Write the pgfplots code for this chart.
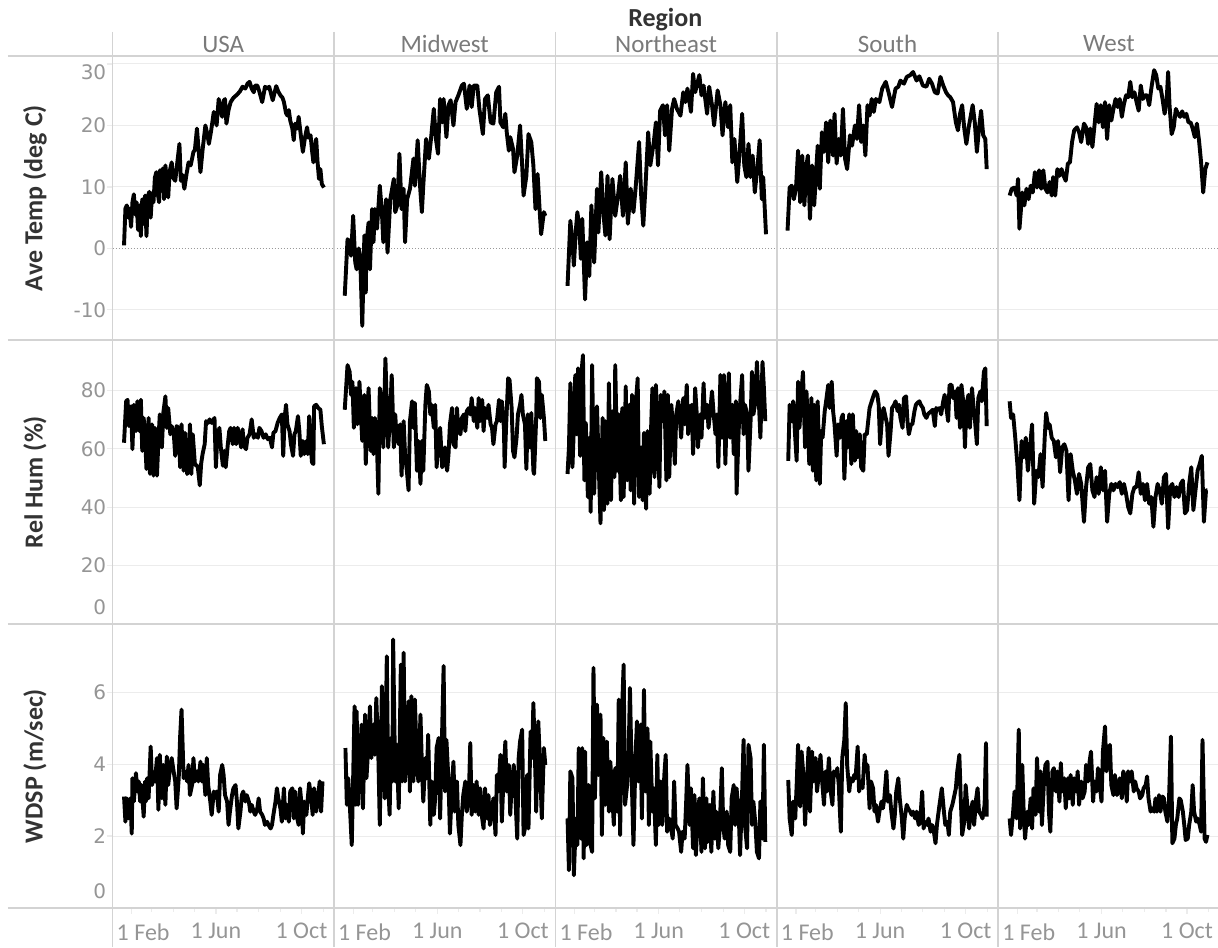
\documentclass[border=0pt]{standalone}
\usepackage{pgfplots}
\pgfplotsset{compat=1.18}
\usepgfplotslibrary{groupplots}
\usepackage{fontspec}
\setmainfont{Carlito}
\newfontfamily\numfont{DejaVu Sans}
\definecolor{sepc}{HTML}{D3D3D3}
\definecolor{gridc}{HTML}{ECECEC}
\definecolor{tickc}{HTML}{959595}
\definecolor{headc}{HTML}{7A7A7A}
\definecolor{labc}{HTML}{333333}
\newcommand{\yl}[2]{\raisebox{#1}[0pt][0pt]{#2}}
\begin{document}
\begin{tikzpicture}
\begin{groupplot}[
  group style={group size=5 by 3, horizontal sep=0pt, vertical sep=0pt, xticklabels at=edge bottom},
  scale only axis, width=110.7pt, height=142pt,
  xmin=4.7, xmax=320.4,
  xtick={32,152,274},
  xticklabels={\makebox[0pt][l]{\hspace{-7.5pt}1 Feb},1 Jun,1 Oct},
  minor xtick={60,91,121,182,213,244,305},
  axis line style={draw=none},
  xtick style={draw=none}, ytick style={draw=none},
  tick align=outside, major tick length=3pt, minor tick length=2pt,
  xtick pos=bottom, ytick pos=left,
  ymajorgrids, grid style={gridc, line width=0.5pt},
  xticklabel style={font=\fontsize{12}{14}\selectfont, text=tickc, inner sep=0pt, anchor=north, yshift=-4.5pt},
  yticklabel style={font=\numfont\fontsize{10}{12}\selectfont, text=tickc, inner sep=0pt, anchor=east},
  ylabel style={font=\bfseries\fontsize{13}{15}\selectfont, text=labc, at={(axis description cs:0,0.5)}, anchor=center, yshift=38.8pt},
  cycle list={black},
  every axis plot post/.append style={black, line width=1.95pt, line join=round, mark=none},
  r1/.style={ymin=-14.9, ymax=31.3, ytick={-10,10,20,30}, extra y ticks={0}, extra y tick style={grid=major, major grid style={densely dotted, black!40, line width=0.6pt}}},
  r2/.style={ymin=0, ymax=97.3, ytick={0,20,40,60,80}},
  r3/.style={ymin=0, ymax=7.9, ytick={0,2,4,6}},
  inner/.style={yticklabels={}, extra y tick labels={}},
  lefty/.style={ytick style={draw=gridc, line width=0.6pt}},
  bot/.style={xtick style={draw=gridc, line width=0.6pt}},
]
% ---------------- Row 1: Ave Temp ----------------
\nextgroupplot[r1, lefty, ylabel={Ave Temp (deg C)},
  yticklabels={\yl{-3.65pt}{-10},\yl{-3.65pt}{10},\yl{-3.65pt}{20},\yl{-7.65pt}{30}},
  extra y tick labels={\yl{-3.65pt}{0}}]
\coordinate (O) at (rel axis cs:0,1);
\addplot coordinates {(21,0.5)(23,6.5)(25,7.0)(27,5.0)(29,6.5)(31,3.5)(33,7.5)(35,8.8)(37,5.5)(39,7.5)(41,3.0)(43,7.0)(45,2.0)(47,8.0)(49,4.0)(51,8.6)(53,2.0)(55,8.5)(57,9.2)(59,5.0)(61,9.0)(63,7.5)(65,11.5)(67,12.4)(69,9.0)(71,7.5)(72,12.7)(74,10.0)(76,13.0)(78,8.0)(80,13.5)(82,11.0)(84,8.3)(86,12.5)(89,14.0)(91,11.5)(94,11.0)(96,13.0)(100,17.0)(102,11.0)(104,12.0)(107,9.7)(110,12.0)(113,14.0)(116,13.5)(120,15.7)(122,16.0)(125,19.5)(128,15.0)(130,12.4)(133,16.0)(137,20.0)(140,18.5)(142,17.0)(145,19.0)(149,22.2)(151,21.5)(153,20.0)(156,24.3)(158,23.0)(161,21.4)(163,24.0)(165,24.3)(167,20.3)(170,22.5)(173,23.8)(177,24.5)(182,25.0)(186,25.5)(190,26.3)(194,26.0)(197,26.8)(200,27.1)(203,26.0)(206,25.4)(208,26.5)(211,26.5)(214,25.5)(218,23.8)(220,25.0)(222,26.3)(225,26.0)(228,26.3)(231,25.0)(233,24.1)(236,25.5)(238,26.4)(241,25.5)(244,24.9)(247,24.5)(249,23.8)(252,22.0)(254,21.6)(256,22.5)(258,20.8)(261,19.5)(263,17.6)(265,20.3)(268,19.5)(270,21.4)(273,18.5)(276,15.7)(279,18.0)(282,19.7)(284,18.0)(287,18.4)(289,16.0)(291,14.0)(293,16.5)(295,17.8)(297,14.0)(299,11.3)(301,12.9)(303,10.5)(306,9.9)};
\nextgroupplot[r1, inner]
\addplot coordinates {(20,-7.7)(24,1.5)(27,1.0)(29,-1.2)(32,5.3)(35,-2.3)(37,-3.4)(40,0)(42,-1.2)(45,-12.6)(48,2.1)(50,-7.2)(51,1.0)(54,4.2)(56,-3.4)(59,6.4)(61,1.0)(63,6.4)(66,3.2)(70,10.2)(73,5.9)(75,1.0)(79,8.0)(81,-0.7)(85,8.0)(90,11.3)(92,5.9)(95,7.0)(98,15.4)(101,6.4)(104,9.7)(106,1.0)(109,8.0)(113,9.7)(118,14.6)(120,10.2)(124,17.6)(127,10.8)(130,5.9)(132,10.2)(136,17.8)(140,14.6)(143,17.8)(147,22.7)(150,17.8)(153,15.4)(156,24.3)(159,20.5)(161,24.3)(165,18.1)(168,23.3)(171,24.1)(175,20.0)(178,23.8)(182,24.9)(187,26.5)(190,26.8)(194,22.7)(198,26.5)(201,23.0)(204,26.5)(209,26.5)(212,22.7)(217,18.6)(220,24.3)(224,24.9)(228,20.5)(232,20.3)(236,25.4)(240,26.3)(242,20.5)(246,19.7)(249,21.9)(251,18.9)(254,15.9)(256,18.1)(260,16.2)(262,12.4)(266,15.1)(270,20.0)(273,13.5)(275,8.6)(279,11.8)(282,18.6)(286,17.3)(289,13.5)(292,6.4)(295,12.1)(298,6.1)(300,2.3)(304,5.9)(306,5.3)};
\nextgroupplot[r1, inner]
\addplot coordinates {(22,-6.1)(26,4.5)(29,1.0)(31,-2.8)(34,3.2)(36,5.9)(39,3.2)(41,-1.7)(43,4.8)(47,-8.3)(50,1.0)(53,-4.5)(56,7.0)(60,-2.3)(64,9.7)(66,2.6)(70,12.4)(73,5.9)(76,2.1)(79,11.8)(82,1.5)(86,11.3)(90,5.3)(94,8.6)(97,11.8)(101,5.3)(105,14.0)(108,4.0)(112,9.7)(116,5.9)(119,9.7)(124,17.3)(127,8.6)(130,3.7)(133,9.7)(137,18.9)(140,13.5)(145,17.3)(148,20.5)(151,13.5)(154,22.4)(158,23.3)(161,18.4)(164,23.3)(167,15.9)(171,22.7)(174,24.3)(178,22.7)(183,21.6)(187,25.4)(190,23.8)(193,26.0)(198,22.2)(201,28.4)(204,25.4)(210,28.2)(213,24.9)(216,26.5)(221,21.9)(224,26.3)(228,23.3)(231,20.0)(236,25.7)(240,23.3)(243,18.4)(247,23.8)(251,19.7)(254,23.3)(257,14.0)(260,17.8)(264,10.8)(267,15.1)(271,21.9)(274,13.5)(277,11.6)(280,17.0)(283,11.6)(286,15.1)(289,9.1)(293,13.5)(296,17.6)(299,8.0)(301,11.6)(305,2.3)};
\nextgroupplot[r1, inner]
\addplot coordinates {(20,2.9)(23,9.9)(26,10.2)(29,8.0)(32,9.7)(35,15.9)(38,7.5)(41,15.1)(44,7.0)(47,13.5)(49,15.1)(52,4.8)(55,13.5)(58,7.0)(61,12.9)(63,16.7)(66,9.7)(69,18.9)(72,15.7)(75,20.5)(78,14.0)(81,20.8)(85,15.1)(87,21.9)(90,13.8)(93,17.8)(96,15.1)(99,22.7)(102,14.6)(105,12.9)(109,18.4)(112,16.7)(116,20.0)(119,17.8)(122,23.3)(125,17.3)(128,20.0)(131,15.1)(134,23.3)(137,21.6)(140,24.3)(143,22.2)(146,24.3)(151,23.8)(155,26.0)(160,27.1)(164,25.4)(169,23.0)(174,26.0)(178,26.3)(181,27.3)(186,26.8)(190,27.9)(195,28.2)(199,28.7)(204,27.3)(208,28.0)(213,26.5)(218,26.3)(222,27.6)(226,26.8)(230,25.4)(234,25.2)(238,27.9)(242,26.5)(246,25.4)(249,24.9)(252,24.6)(256,23.8)(260,20.5)(263,19.2)(266,21.9)(269,23.3)(272,19.5)(275,17.0)(278,19.5)(281,21.4)(284,23.3)(287,20.5)(290,15.7)(293,19.5)(296,22.4)(299,18.4)(302,17.8)(304,12.9)};
\nextgroupplot[r1, inner]
\addplot coordinates {(21,8.6)(24,9.7)(28,9.9)(31,8.6)(33,11.3)(35,3.2)(39,9.1)(42,7.0)(45,9.7)(48,8.0)(51,10.2)(54,9.1)(57,12.4)(60,9.9)(63,12.7)(66,9.7)(69,12.7)(72,9.7)(75,9.1)(78,10.8)(81,8.6)(83,11.6)(86,8.6)(89,12.9)(92,11.8)(95,12.9)(98,11.8)(101,11.0)(104,13.8)(107,14.0)(110,17.3)(113,19.2)(117,19.7)(120,18.9)(123,17.3)(127,20.3)(130,19.7)(133,17.0)(136,19.5)(139,16.5)(142,20.0)(145,23.5)(148,20.5)(151,23.3)(154,19.7)(157,23.8)(160,17.8)(163,23.3)(166,20.8)(169,22.7)(172,24.3)(175,23.0)(178,24.3)(181,21.4)(184,23.5)(187,24.9)(190,24.6)(193,27.1)(196,24.6)(199,25.4)(202,23.8)(205,22.4)(208,26.5)(211,24.3)(214,24.9)(217,24.9)(220,23.3)(223,26.0)(227,29.0)(230,28.2)(233,26.0)(236,26.3)(239,24.3)(242,21.9)(245,24.3)(247,28.7)(249,23.3)(252,18.6)(255,19.7)(258,22.7)(261,21.9)(264,21.4)(267,22.3)(270,21.4)(273,21.9)(276,20.5)(279,20.5)(282,19.5)(285,18.1)(288,20.3)(291,17.6)(294,14.0)(297,9.1)(300,12.9)(303,14.0)};
% ---------------- Row 2: Rel Hum ----------------
\nextgroupplot[r2, lefty, ylabel={Rel Hum (\%)},
  yticklabels={\yl{4.85pt}{0},\yl{-3.65pt}{20},\yl{-3.65pt}{40},\yl{-3.65pt}{60},\yl{-3.65pt}{80}}]
\addplot coordinates {(21,62.1)(24,76.3)(26,76.8)(28,67.8)(31,74.6)(33,59.9)(35,75.1)(38,66.1)(40,76.3)(43,66.1)(45,76.8)(47,59.3)(49,70.6)(51,63.8)(53,53.1)(56,70.6)(58,51.4)(61,68.4)(63,50.8)(65,67.2)(68,50.8)(70,62.7)(72,71.8)(75,60.5)(77,72.3)(80,78.0)(82,67.2)(84,74.0)(87,65.0)(89,67.8)(92,65.0)(94,57.6)(96,67.8)(99,67.2)(101,53.7)(103,68.4)(106,52.5)(108,65.5)(111,51.4)(113,52.5)(115,68.4)(117,51.4)(119,65.0)(122,55.0)(124,54.2)(126,54.2)(129,47.5)(131,55.0)(133,58.2)(136,61.6)(138,69.5)(141,68.9)(143,70.1)(146,68.9)(150,70.6)(152,53.7)(154,63.8)(157,67.2)(159,60.5)(162,54.2)(164,59.3)(166,53.7)(169,61.6)(171,66.1)(173,67.2)(176,61.6)(178,67.2)(181,61.6)(183,67.2)(185,65.0)(188,60.5)(190,66.7)(192,61.0)(195,59.9)(197,63.8)(200,65.0)(203,70.1)(206,63.8)(209,65.0)(212,63.8)(214,67.2)(217,66.1)(220,63.8)(223,65.0)(226,63.3)(229,63.8)(232,60.5)(234,65.5)(237,66.1)(240,68.9)(243,70.6)(246,71.8)(248,57.6)(250,70.6)(252,75.1)(254,68.4)(257,66.1)(259,61.6)(262,57.6)(264,65.0)(266,66.1)(269,71.2)(271,66.1)(273,57.6)(276,62.7)(278,58.2)(281,62.7)(283,58.2)(285,71.2)(287,61.6)(289,55.4)(291,54.8)(292,74.6)(295,75.1)(298,74.0)(301,73.4)(303,67.8)(306,61.6)};
\nextgroupplot[r2, inner]
\addplot coordinates {(20,73.4)(24,88.7)(27,86.4)(29,78.5)(31,83.0)(33,67.2)(36,80.8)(38,68.4)(41,83.0)(43,71.8)(45,62.7)(48,78.5)(50,54.8)(52,69.5)(54,80.8)(57,59.3)(59,70.6)(61,58.2)(63,70.6)(66,60.5)(68,44.6)(70,80.8)(73,75.1)(75,60.5)(78,91.0)(80,75.1)(82,60.5)(85,73.4)(87,85.3)(90,60.5)(92,71.8)(94,63.8)(97,61.6)(99,68.4)(101,50.8)(104,69.5)(106,58.2)(109,51.4)(111,45.8)(113,69.5)(116,76.3)(118,67.2)(120,75.7)(123,52.5)(125,62.7)(128,48.0)(130,62.7)(132,52.5)(135,75.1)(137,81.9)(140,79.7)(142,71.8)(144,75.1)(147,67.2)(149,75.1)(151,53.7)(154,63.8)(156,67.2)(159,53.7)(161,54.8)(163,60.5)(166,52.5)(168,58.2)(170,68.4)(173,74.0)(175,61.6)(178,60.5)(180,74.0)(182,66.1)(185,65.0)(187,70.6)(190,71.8)(192,66.1)(194,72.9)(197,74.0)(199,71.8)(201,77.4)(204,69.5)(206,74.0)(209,67.2)(211,77.4)(213,69.5)(216,76.8)(218,66.1)(220,74.0)(223,70.6)(225,75.1)(228,68.4)(230,67.2)(232,61.6)(235,68.4)(237,69.5)(240,76.8)(242,69.5)(244,76.3)(247,67.2)(248,53.7)(250,67.2)(253,84.2)(255,83.6)(258,74.0)(260,59.3)(262,57.1)(265,63.8)(267,71.8)(270,75.1)(272,78.5)(274,71.8)(277,68.4)(279,53.1)(281,71.8)(284,60.5)(286,72.3)(289,52.5)(290,51.4)(293,70.6)(294,84.2)(297,83.0)(299,70.6)(301,78.5)(304,70.6)(306,62.7)};
\nextgroupplot[r2, inner]
\addplot coordinates {(22,51.4)(24,60.5)(26,82.5)(29,53.7)(31,67.2)(33,85.3)(35,65.0)(37,87.6)(40,57.6)(42,86.4)(44,92.1)(46,49.2)(48,68.9)(51,43.5)(53,63.8)(55,38.4)(57,88.7)(60,44.6)(62,63.8)(64,74.6)(67,50.3)(69,34.5)(72,70.6)(74,39.0)(76,69.5)(79,41.2)(81,82.5)(84,42.4)(86,72.9)(89,50.3)(90,88.7)(93,52.5)(95,71.8)(98,42.4)(100,74.0)(102,43.5)(105,81.4)(107,49.2)(110,75.1)(112,45.8)(114,78.5)(117,41.2)(119,74.0)(122,84.2)(124,43.5)(127,60.5)(129,42.4)(131,65.5)(134,39.5)(136,66.1)(139,44.6)(141,66.1)(143,80.8)(146,50.3)(148,81.9)(151,63.8)(153,46.9)(155,78.5)(158,69.5)(160,79.7)(163,49.2)(165,78.5)(167,50.3)(170,75.1)(172,68.4)(175,54.8)(177,71.8)(180,76.3)(182,70.6)(184,63.8)(187,77.4)(189,68.4)(192,81.9)(194,65.0)(196,71.8)(199,75.1)(201,58.2)(204,80.8)(206,72.9)(208,60.5)(211,71.8)(213,63.8)(216,82.5)(218,70.6)(221,75.1)(223,67.2)(225,71.8)(228,79.7)(230,72.9)(233,65.0)(235,71.8)(237,53.7)(240,85.3)(242,63.8)(245,85.3)(247,54.8)(249,71.8)(252,85.9)(254,63.8)(257,75.1)(259,58.2)(262,76.3)(263,44.6)(266,66.1)(268,75.1)(271,85.3)(273,65.0)(275,75.1)(278,71.8)(280,52.5)(283,69.5)(285,86.4)(287,71.8)(290,76.3)(292,89.8)(295,75.1)(297,63.8)(300,89.8)(302,80.8)(304,69.5)};
\nextgroupplot[r2, inner]
\addplot coordinates {(21,55.9)(23,75.1)(26,69.5)(28,76.3)(31,63.8)(33,55.9)(35,83.0)(37,67.2)(40,79.7)(42,86.4)(45,60.5)(47,79.7)(49,68.4)(51,54.8)(54,77.4)(56,52.5)(58,75.1)(61,49.2)(63,76.3)(66,48.0)(68,66.1)(70,63.8)(73,72.9)(75,76.3)(78,81.9)(80,74.0)(83,83.0)(85,72.9)(87,68.4)(90,57.6)(92,68.4)(95,63.8)(97,70.6)(99,71.8)(101,49.7)(104,69.5)(106,60.5)(108,71.8)(111,54.8)(113,71.8)(116,55.9)(118,66.1)(120,57.1)(123,65.0)(125,53.7)(128,52.5)(130,65.0)(133,65.0)(135,69.5)(137,74.0)(140,76.3)(143,78.5)(145,79.7)(148,78.5)(150,75.1)(152,61.6)(155,71.8)(157,74.0)(160,70.6)(162,68.4)(164,57.6)(167,66.1)(169,74.0)(172,75.1)(174,76.3)(177,72.9)(179,75.1)(181,70.6)(184,67.2)(186,77.4)(189,78.0)(191,69.5)(193,65.0)(196,68.4)(198,68.4)(201,72.9)(203,75.1)(205,75.7)(208,76.3)(210,75.1)(213,74.0)(215,71.8)(218,70.6)(220,71.8)(222,72.3)(225,72.9)(227,73.4)(230,67.8)(232,74.0)(234,73.4)(237,74.0)(239,71.8)(242,76.3)(244,78.5)(246,75.1)(249,69.5)(251,81.9)(254,81.9)(256,77.4)(259,79.7)(261,70.6)(263,80.8)(266,67.2)(268,81.9)(271,75.1)(273,60.5)(275,75.1)(278,78.5)(280,67.2)(283,80.8)(285,75.1)(287,70.6)(290,61.6)(292,77.4)(295,79.7)(297,76.3)(300,86.4)(302,87.6)(304,67.8)};
\nextgroupplot[r2, inner]
\addplot coordinates {(21,76.3)(23,70.6)(26,71.8)(29,63.8)(32,54.8)(35,42.4)(38,62.7)(41,57.1)(44,63.8)(47,52.5)(50,60.5)(53,68.4)(56,41.2)(59,52.5)(62,50.3)(65,58.2)(68,46.9)(71,63.8)(73,72.3)(76,67.2)(78,68.4)(81,63.8)(84,62.7)(87,57.1)(90,62.7)(93,52.0)(96,60.5)(99,61.6)(102,59.3)(105,42.4)(108,58.2)(111,52.5)(114,49.2)(117,44.6)(120,51.4)(123,48.0)(127,35.0)(130,46.9)(133,53.7)(136,54.8)(139,45.8)(142,43.5)(145,50.3)(148,44.6)(151,53.7)(154,45.8)(157,52.5)(160,35.0)(163,44.6)(166,48.0)(169,45.8)(172,48.0)(175,46.9)(178,48.6)(181,44.6)(184,48.0)(187,44.6)(190,40.1)(193,37.9)(196,44.6)(199,46.9)(202,46.9)(205,52.0)(208,44.6)(211,48.0)(214,42.4)(217,48.0)(220,41.2)(223,43.5)(226,33.3)(229,43.5)(232,48.0)(235,45.8)(238,41.2)(241,50.3)(244,51.4)(247,32.8)(250,46.9)(253,48.0)(256,43.5)(259,46.9)(262,43.5)(265,48.0)(268,49.2)(271,37.9)(274,39.0)(277,48.0)(280,53.7)(283,39.0)(286,45.8)(289,52.5)(292,54.8)(295,57.6)(298,35.0)(301,45.8)(303,45.8)};
% ---------------- Row 3: WDSP ----------------
\nextgroupplot[r3, lefty, bot, ylabel={WDSP (m/sec)},
  yticklabels={\yl{4.85pt}{0},\yl{-3.65pt}{2},\yl{-3.65pt}{4},\yl{-3.65pt}{6}}]
\addplot coordinates {(21,3.10)(23,2.40)(25,3.05)(27,2.49)(30,3.05)(32,2.07)(33,3.61)(35,2.96)(38,3.75)(40,3.24)(42,3.52)(44,2.96)(46,3.42)(49,2.54)(51,3.52)(52,2.96)(54,3.61)(56,3.05)(59,4.49)(61,3.42)(63,3.70)(65,3.52)(68,4.17)(70,2.73)(72,4.26)(75,3.05)(77,3.98)(80,2.87)(82,4.21)(84,3.42)(87,3.98)(89,4.17)(91,3.89)(94,3.52)(96,2.77)(99,3.61)(101,4.77)(103,5.52)(106,3.61)(108,3.80)(111,3.52)(113,3.98)(115,3.14)(118,3.42)(120,4.17)(122,3.52)(125,3.80)(127,3.52)(130,4.07)(132,3.52)(134,3.98)(137,3.14)(139,4.17)(141,3.42)(144,2.96)(146,2.59)(149,3.24)(151,3.14)(153,3.24)(156,2.68)(158,3.70)(161,3.98)(163,3.70)(165,3.14)(168,2.96)(170,2.31)(172,2.68)(175,3.14)(177,3.33)(180,3.42)(182,2.96)(184,2.21)(187,2.68)(189,3.14)(191,3.24)(194,2.96)(196,3.14)(199,2.96)(201,2.68)(203,2.87)(206,2.68)(208,2.59)(211,2.77)(213,3.05)(215,2.68)(218,2.59)(220,2.49)(222,2.31)(225,2.40)(227,2.31)(230,2.21)(232,2.31)(234,2.59)(237,2.96)(239,3.33)(241,3.05)(244,2.77)(246,2.40)(249,3.33)(251,2.49)(253,2.87)(256,2.40)(258,3.24)(261,3.33)(263,2.49)(265,3.24)(268,2.49)(270,2.31)(272,3.33)(275,2.68)(276,2.07)(278,2.96)(281,2.59)(283,3.05)(285,3.47)(288,3.05)(290,2.59)(292,3.33)(295,2.68)(297,2.96)(300,3.52)(302,2.68)(304,3.52)};
\nextgroupplot[r3, inner, bot]
\addplot coordinates {(21,4.45)(23,2.87)(25,3.61)(27,2.96)(30,1.75)(32,3.61)(34,5.61)(36,2.87)(37,5.47)(39,2.87)(42,4.17)(44,5.10)(46,2.77)(49,5.38)(51,3.61)(54,4.63)(56,5.61)(58,4.17)(61,5.10)(63,4.26)(65,5.84)(68,4.17)(70,2.31)(73,6.17)(75,4.63)(77,3.05)(80,7.00)(82,3.42)(84,2.59)(86,4.73)(88,3.52)(89,7.47)(92,3.52)(94,4.54)(97,2.77)(100,6.77)(102,3.52)(104,7.10)(106,3.52)(109,4.35)(111,5.75)(113,3.24)(115,5.89)(118,3.52)(120,5.80)(123,3.98)(125,3.52)(128,5.38)(130,3.98)(132,2.96)(135,4.17)(137,3.61)(139,4.82)(142,2.31)(144,3.52)(147,2.59)(149,3.05)(151,4.45)(154,4.73)(156,2.49)(158,4.17)(161,6.73)(163,3.24)(165,4.68)(168,3.52)(170,2.07)(173,3.42)(175,4.07)(177,2.68)(180,3.52)(182,2.31)(185,1.75)(187,2.59)(189,3.14)(192,3.52)(194,2.68)(197,3.14)(199,4.59)(201,2.59)(204,3.42)(206,2.68)(208,3.52)(211,2.59)(213,3.33)(216,2.49)(218,2.21)(220,3.33)(223,2.49)(225,3.14)(227,2.31)(230,2.68)(232,3.05)(235,2.03)(237,3.70)(239,3.24)(242,4.26)(244,2.40)(247,3.89)(249,4.63)(251,3.24)(254,3.98)(256,2.59)(258,3.42)(261,3.98)(263,3.24)(266,1.93)(268,4.17)(270,4.63)(273,4.96)(275,2.03)(278,2.31)(280,3.70)(282,2.21)(285,4.91)(287,4.17)(289,5.70)(292,3.61)(293,2.68)(295,4.63)(296,5.19)(299,3.70)(301,2.49)(304,4.45)(306,3.98)};
\nextgroupplot[r3, inner, bot]
\addplot coordinates {(22,2.49)(24,1.05)(26,3.80)(29,3.61)(31,0.91)(34,2.49)(36,1.75)(38,4.45)(41,1.93)(43,4.45)(45,1.38)(47,4.35)(49,1.75)(52,3.42)(54,1.84)(57,1.56)(59,6.68)(61,3.05)(64,5.66)(66,3.70)(69,5.38)(71,2.03)(73,4.73)(76,2.87)(78,4.63)(81,2.68)(83,4.07)(85,3.42)(88,2.31)(90,3.89)(93,2.68)(95,5.80)(97,2.03)(99,5.10)(102,6.77)(104,2.87)(107,3.42)(109,4.17)(111,6.12)(114,3.24)(116,1.75)(119,4.26)(121,5.19)(123,3.52)(126,5.10)(128,2.49)(131,6.07)(133,3.24)(136,5.00)(138,2.31)(140,4.63)(143,2.68)(145,3.33)(148,1.75)(150,4.26)(152,2.31)(155,3.52)(157,2.31)(160,3.70)(162,4.26)(164,2.12)(167,2.49)(169,2.31)(172,1.93)(174,3.52)(176,2.31)(179,2.21)(181,2.12)(184,1.56)(186,2.12)(189,1.93)(191,2.87)(193,3.98)(196,2.31)(198,3.33)(201,1.66)(203,3.14)(205,1.47)(208,2.68)(210,3.05)(213,1.56)(215,3.61)(218,1.66)(220,3.05)(222,1.84)(225,2.87)(227,1.56)(230,3.24)(232,1.93)(234,2.68)(237,1.66)(239,2.21)(242,3.89)(244,2.31)(246,1.93)(249,2.68)(251,1.75)(254,1.56)(256,3.05)(259,3.42)(261,2.31)(263,3.33)(266,2.68)(268,1.47)(271,3.24)(273,4.68)(275,2.31)(278,1.66)(280,4.54)(283,4.17)(285,2.31)(287,2.96)(290,2.31)(292,1.56)(295,1.38)(297,2.96)(300,1.93)(302,4.54)(304,1.84)};
\nextgroupplot[r3, inner, bot]
\addplot coordinates {(21,3.56)(23,2.49)(26,2.03)(28,2.96)(31,2.49)(33,3.42)(35,4.54)(38,2.82)(40,4.35)(43,3.61)(45,2.31)(48,3.61)(50,4.45)(52,2.68)(55,4.35)(57,3.52)(60,4.17)(62,3.24)(64,3.61)(67,4.26)(69,3.61)(72,2.87)(74,3.80)(76,3.24)(79,4.17)(81,3.33)(84,2.87)(86,3.80)(89,3.70)(91,3.89)(93,3.42)(96,2.12)(98,4.17)(101,4.68)(103,5.70)(105,3.98)(108,3.24)(110,3.61)(113,3.52)(115,3.70)(117,3.61)(120,4.49)(122,3.24)(125,3.52)(127,3.33)(130,4.26)(132,3.80)(134,3.98)(137,2.77)(139,3.52)(142,3.33)(144,2.68)(146,2.87)(149,2.40)(151,2.68)(154,2.96)(156,2.77)(158,3.05)(161,3.80)(163,2.96)(166,3.14)(168,2.68)(171,2.21)(173,2.59)(175,3.24)(178,3.61)(180,3.05)(183,2.49)(185,1.93)(187,2.49)(190,2.87)(192,2.77)(195,2.68)(197,2.59)(199,2.68)(202,2.49)(204,2.68)(207,2.31)(209,2.40)(212,3.24)(214,2.21)(216,2.40)(219,2.31)(221,2.49)(224,2.12)(226,2.31)(228,2.21)(231,1.80)(233,2.31)(236,2.77)(238,3.05)(240,3.33)(243,2.68)(245,2.31)(248,2.40)(250,2.03)(252,2.68)(255,2.87)(257,3.05)(260,3.33)(262,3.80)(265,4.26)(267,3.05)(269,2.03)(272,2.40)(274,3.42)(277,2.68)(279,2.21)(281,2.68)(284,2.96)(286,2.31)(289,3.05)(291,3.33)(293,2.68)(296,2.59)(298,2.49)(301,2.87)(303,4.59)(304,2.54)};
\nextgroupplot[r3, inner, bot]
\addplot coordinates {(21,2.49)(23,2.03)(26,2.68)(28,3.24)(31,2.49)(34,4.96)(36,2.21)(39,3.98)(41,2.68)(43,1.93)(46,2.68)(48,2.31)(51,3.05)(53,2.21)(55,3.33)(58,2.59)(60,4.17)(63,2.68)(65,3.80)(67,2.31)(70,3.52)(72,3.98)(75,4.07)(77,2.68)(79,2.12)(82,3.80)(84,3.89)(87,3.24)(89,3.80)(92,2.96)(94,4.03)(96,3.24)(99,3.61)(101,2.77)(104,3.61)(106,3.05)(108,3.70)(111,2.87)(113,3.61)(116,3.24)(118,3.80)(120,2.87)(123,3.52)(125,3.05)(128,3.24)(130,3.98)(133,3.52)(135,4.07)(137,4.35)(140,2.96)(142,3.52)(145,3.24)(147,3.89)(149,3.52)(152,2.96)(154,4.35)(157,5.05)(159,3.80)(161,4.17)(164,4.54)(166,3.42)(169,3.14)(171,3.70)(174,3.14)(176,3.33)(178,3.61)(181,3.05)(183,3.80)(186,3.61)(188,2.96)(190,3.80)(193,3.52)(195,3.80)(198,3.24)(200,3.52)(202,3.33)(205,3.24)(207,3.05)(210,3.14)(212,3.33)(215,3.42)(217,3.66)(219,3.05)(222,2.68)(224,2.77)(227,2.68)(229,3.05)(231,2.68)(234,3.14)(236,2.68)(239,3.10)(241,3.05)(243,2.68)(246,2.40)(248,2.87)(251,4.77)(253,1.80)(256,1.93)(258,2.31)(260,2.49)(263,3.05)(265,3.00)(268,2.68)(270,2.31)(272,1.89)(275,1.93)(277,2.31)(280,2.68)(282,3.42)(284,2.68)(287,2.40)(289,2.49)(292,2.31)(294,2.12)(296,4.68)(299,1.93)(301,1.84)(303,2.03)};
\end{groupplot}
% ---------- separators, headers ----------
\begin{scope}[sepc, line width=0.8pt]
\foreach \i in {0,1,2,3,4} \draw ([xshift=\i*110.7pt]O) ++(0,12pt) -- ++(0,-457.5pt);
\foreach \j in {0,-142,-284,-426} \draw ([yshift=\j pt]O) ++(-52.3pt,0) -- ++(605pt,0);
\end{scope}
\node[font=\bfseries\fontsize{13}{15}\selectfont, text=labc] at ([xshift=276.35pt, yshift=18pt]O) {Region};
\foreach \n [count=\k from 0] in {USA,Midwest,Northeast,South,West}
  \node[font=\fontsize{12.5}{15}\selectfont, text=headc] at ([xshift=\k*110.7pt+55.35pt, yshift=6pt]O) {\n};
\pgfresetboundingbox
\path ([xshift=-56.3pt, yshift=28pt]O) rectangle ([xshift=552.7pt, yshift=-445.5pt]O);
\end{tikzpicture}
\end{document}
